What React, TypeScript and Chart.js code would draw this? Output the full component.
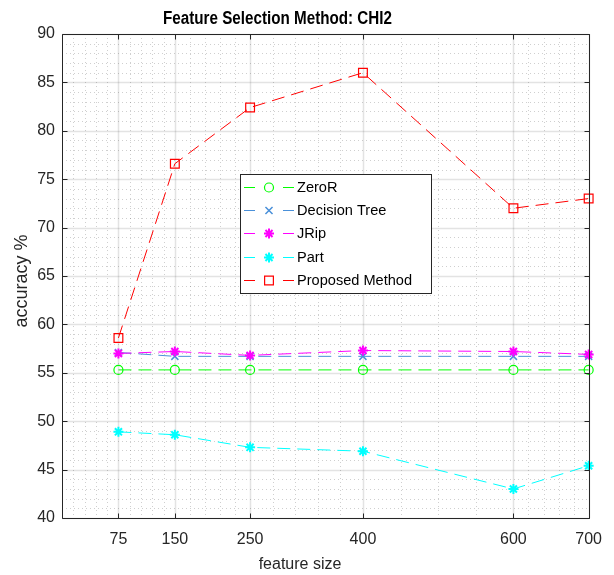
import React, { useEffect, useRef } from 'react';
import { Chart, registerables } from 'chart.js';
import { drawPoint } from 'chart.js/helpers';

Chart.register(...registerables);

const FONT = '"Liberation Sans", Arial, Helvetica, sans-serif';

const titleText = 'Feature Selection Method: CHI2';
const xLabel = 'feature size';
const yLabel = 'accuracy %';

const featureSizes = [75, 150, 250, 400, 600, 700];
const seriesNames = ['ZeroR', 'Decision Tree', 'JRip', 'Part', 'Proposed Method'];
const zeroR = [55.3, 55.3, 55.3, 55.3, 55.3, 55.3];
const decisionTree = [57.1, 56.7, 56.7, 56.7, 56.7, 56.7];
const jrip = [57.0, 57.2, 56.8, 57.3, 57.2, 56.9];
const part = [48.9, 48.6, 47.3, 46.9, 43.0, 45.4];
const proposed = [58.6, 76.6, 82.4, 86.0, 72.0, 73.0];

const xTickValues = [75, 150, 250, 400, 600, 700];
const xMinorValues = [15, 30, 45, 60, 90, 105, 120, 135, 170, 190, 210, 230, 280, 310, 340, 370, 450, 500, 550, 620, 640, 660, 680];
const yTickValues = [40, 45, 50, 55, 60, 65, 70, 75, 80, 85, 90];
const yMinorValues = [41, 42, 43, 44, 46, 47, 48, 49, 51, 52, 53, 54, 56, 57, 58, 59, 61, 62, 63, 64, 66, 67, 68, 69, 71, 72, 73, 74, 76, 77, 78, 79, 81, 82, 83, 84, 86, 87, 88, 89];

const seriesValues = [zeroR, decisionTree, jrip, part, proposed];
const seriesColors = ['#00ff00', '#4a90d9', '#ff00ff', '#00ffff', '#ff0000'];
const seriesMarkers = ['circle', 'crossRot', 'star', 'star', 'rect'];
const markerRadius = [4.5, 5, 5, 5, 6.2];
const markerWidth = [1.2, 1.5, 2, 2, 1.2];

const DASH = [13, 7];

function scaledText(ctx: CanvasRenderingContext2D, text: string, x: number, y: number, sx: number, rot = 0) {
  ctx.save();
  ctx.translate(x, y);
  if (rot) ctx.rotate(rot);
  ctx.scale(sx, 1);
  ctx.fillText(text, 0, 0);
  ctx.restore();
}

const matlabPlugin = {
  id: 'matlabAxes',
  beforeDatasetsDraw(chart: any) {
    const { ctx, chartArea, scales } = chart;
    const { left, right, top, bottom } = chartArea;
    const xs = scales.x;
    const ys = scales.y;
    ctx.save();
    ctx.lineWidth = 1;
    ctx.strokeStyle = 'rgba(38,38,38,0.22)';
    ctx.setLineDash([1, 3]);
    for (const v of xMinorValues) {
      const px = Math.round(xs.getPixelForValue(v)) + 0.5;
      ctx.beginPath();
      ctx.moveTo(px, top);
      ctx.lineTo(px, bottom);
      ctx.stroke();
    }
    for (const v of yMinorValues) {
      const py = Math.round(ys.getPixelForValue(v)) + 0.5;
      ctx.beginPath();
      ctx.moveTo(left, py);
      ctx.lineTo(right, py);
      ctx.stroke();
    }
    ctx.setLineDash([]);
    ctx.strokeStyle = 'rgba(38,38,38,0.13)';
    ctx.lineWidth = 1.5;
    for (const v of xTickValues) {
      const px = Math.round(xs.getPixelForValue(v)) + 0.5;
      ctx.beginPath();
      ctx.moveTo(px, top);
      ctx.lineTo(px, bottom);
      ctx.stroke();
    }
    for (const v of yTickValues) {
      const py = Math.round(ys.getPixelForValue(v)) + 0.5;
      ctx.beginPath();
      ctx.moveTo(left, py);
      ctx.lineTo(right, py);
      ctx.stroke();
    }
    ctx.restore();
  },
  afterDatasetsDraw(chart: any) {
    const { ctx, chartArea, scales } = chart;
    const { left, right, top, bottom } = chartArea;
    const xs = scales.x;
    const ys = scales.y;
    ctx.save();
    ctx.strokeStyle = '#262626';
    ctx.lineWidth = 1;
    ctx.setLineDash([]);
    const l = Math.round(left) + 0.5;
    const r = Math.round(right) + 0.5;
    const t = Math.round(top) + 0.5;
    const b = Math.round(bottom) + 0.5;
    ctx.beginPath();
    ctx.rect(l, t, r - l, b - t);
    ctx.stroke();
    const TL = 5;
    for (const v of xTickValues) {
      const px = Math.round(xs.getPixelForValue(v)) + 0.5;
      ctx.beginPath();
      ctx.moveTo(px, b);
      ctx.lineTo(px, b - TL);
      ctx.moveTo(px, t);
      ctx.lineTo(px, t + TL);
      ctx.stroke();
    }
    for (const v of yTickValues) {
      const py = Math.round(ys.getPixelForValue(v)) + 0.5;
      ctx.beginPath();
      ctx.moveTo(l, py);
      ctx.lineTo(l + TL, py);
      ctx.moveTo(r, py);
      ctx.lineTo(r - TL, py);
      ctx.stroke();
    }
    ctx.restore();
  },
  afterDraw(chart: any) {
    const { ctx } = chart;
    ctx.save();
    ctx.textAlign = 'center';
    ctx.textBaseline = 'middle';
    // title
    ctx.fillStyle = '#000000';
    ctx.font = `bold 18px ${FONT}`;
    scaledText(ctx, titleText, 277.5, 19, 0.845);
    // x label
    ctx.fillStyle = '#262626';
    ctx.font = `16px ${FONT}`;
    scaledText(ctx, xLabel, 300, 565, 1);
    // y label
    ctx.font = `18px ${FONT}`;
    scaledText(ctx, yLabel, 22, 281, 1, -Math.PI / 2);

    // legend
    const lx = 240, ly = 174, lw = 191, lh = 119;
    ctx.fillStyle = '#ffffff';
    ctx.fillRect(lx, ly, lw, lh);
    ctx.strokeStyle = '#262626';
    ctx.lineWidth = 1;
    ctx.strokeRect(lx + 0.5, ly + 0.5, lw, lh);
    chart.data.datasets.forEach((ds: any, i: number) => {
      const yy = Math.round(187 + i * 23.2) + 0.5;
      ctx.strokeStyle = ds.borderColor;
      ctx.lineWidth = 1;
      ctx.setLineDash([]);
      ctx.beginPath();
      ctx.moveTo(244, yy);
      ctx.lineTo(255, yy);
      ctx.moveTo(283, yy);
      ctx.lineTo(294, yy);
      ctx.stroke();
      ctx.fillStyle = ds.pointBackgroundColor;
      ctx.strokeStyle = ds.pointBorderColor;
      ctx.lineWidth = ds.pointBorderWidth;
      drawPoint(ctx, { pointStyle: ds.pointStyle, radius: ds.pointRadius, borderWidth: ds.pointBorderWidth, rotation: 0 }, 269, yy);
      ctx.fillStyle = '#000000';
      ctx.font = `15.5px ${FONT}`;
      ctx.textAlign = 'left';
      ctx.textBaseline = 'middle';
      scaledText(ctx, ds.label, 297, yy, 0.94);
    });
    ctx.restore();
  },
};

export default function App() {
  const canvasRef = useRef<HTMLCanvasElement | null>(null);
  useEffect(() => {
    document.body.style.margin = '0';
    const canvas = canvasRef.current;
    if (!canvas) return;
    const datasets = seriesNames.map((name, i) => ({
      label: name,
      data: featureSizes.map((fx, j) => ({ x: fx, y: seriesValues[i][j] })),
      borderColor: seriesColors[i],
      backgroundColor: seriesColors[i],
      borderWidth: 1,
      borderDash: DASH,
      pointStyle: seriesMarkers[i],
      pointRadius: markerRadius[i],
      pointBorderWidth: markerWidth[i],
      pointBorderColor: seriesColors[i],
      pointBackgroundColor: seriesMarkers[i] === 'circle' || seriesMarkers[i] === 'rect' ? 'rgba(0,0,0,0)' : seriesColors[i],
      tension: 0,
      fill: false,
      clip: false,
      order: seriesNames.length - i,
    }));
    const chart = new Chart(canvas, {
      type: 'line',
      data: { datasets },
      options: {
        responsive: false,
        animation: false,
        devicePixelRatio: 1,
        layout: { padding: { left: 0, right: 25, top: 34, bottom: 0 } },
        plugins: {
          legend: { display: false },
          title: { display: false },
          tooltip: { enabled: false },
        },
        scales: {
          x: {
            type: 'linear',
            min: 0,
            max: 700,
            grid: { display: false, drawTicks: false },
            border: { display: false },
            afterBuildTicks: (scale: any) => {
              scale.ticks = xTickValues.map((v) => ({ value: v }));
            },
            afterFit: (scale: any) => {
              scale.height = 57;
            },
            ticks: {
              autoSkip: false,
              maxRotation: 0,
              padding: 12,
              color: '#262626',
              font: { family: FONT, size: 16 },
            },
          },
          y: {
            type: 'linear',
            min: 40,
            max: 90,
            grid: { display: false, drawTicks: false },
            border: { display: false },
            afterBuildTicks: (scale: any) => {
              scale.ticks = yTickValues.map((v) => ({ value: v }));
            },
            afterFit: (scale: any) => {
              scale.width = 62;
            },
            ticks: {
              padding: 7,
              color: '#262626',
              font: { family: FONT, size: 16 },
            },
          },
        },
      },
      plugins: [matlabPlugin],
    });
    return () => chart.destroy();
  }, []);
  return (
    <div style={{ width: 614, height: 575 }}>
      <canvas ref={canvasRef} width={614} height={575} style={{ display: 'block' }} />
    </div>
  );
}
